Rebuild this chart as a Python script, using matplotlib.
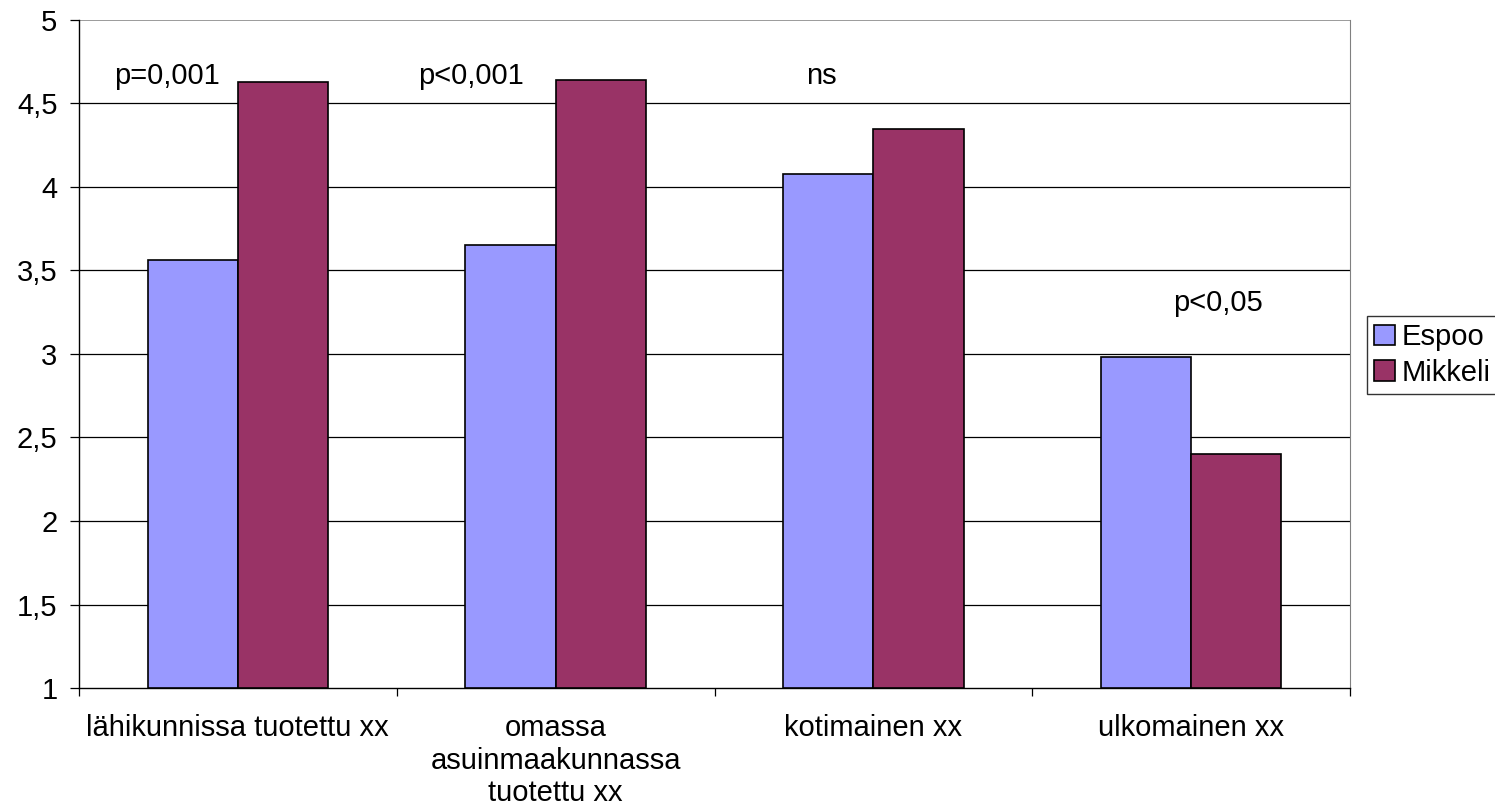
import matplotlib
matplotlib.use("Agg")
import matplotlib.pyplot as plt
import numpy as np

categories = ["lähikunnissa tuotettu xx", "omassa\nasuinmaakunnassa\ntuotettu xx",
              "kotimainen xx", "ulkomainen xx"]
series_names = ["Espoo", "Mikkeli"]
espoo = [3.56, 3.65, 4.08, 2.98]
mikkeli = [4.63, 4.64, 4.35, 2.40]
annotations = ["p=0,001", "p<0,001", "ns", "p<0,05"]
ytick_vals = [1, 1.5, 2, 2.5, 3, 3.5, 4, 4.5, 5]
ytick_labels = ["1", "1,5", "2", "2,5", "3", "3,5", "4", "4,5", "5"]

plt.rcParams['font.family'] = ['Liberation Sans', 'DejaVu Sans']
FS = 21
fig = plt.figure(figsize=(14.95, 8.06), dpi=100)
W, H = 1495, 806
ax = fig.add_axes([79 / W, 1 - 688 / H, (1350 - 79) / W, (688 - 20) / H])

x = np.arange(len(categories))
bw = 0.284
ax.bar(x - bw / 2, np.array(espoo) - 1, bw, bottom=1, color="#9999FF",
       edgecolor="black", linewidth=1.2, label=series_names[0], zorder=3)
ax.bar(x + bw / 2, np.array(mikkeli) - 1, bw, bottom=1, color="#993366",
       edgecolor="black", linewidth=1.2, label=series_names[1], zorder=3)

ax.set_xlim(-0.5, 3.5)
ax.set_ylim(1, 5)
ax.set_yticks(ytick_vals)
ax.set_yticklabels(ytick_labels, fontsize=FS)
for v in ytick_vals[1:-1]:
    ax.axhline(v, color="black", linewidth=0.9, zorder=1)
ax.axhline(5, color="#808080", linewidth=1.1, zorder=1)

ax.set_xticks(np.arange(-0.5, 4, 1))
ax.set_xticklabels([])
ax.tick_params(axis='x', length=6, width=0.9, direction='out')
ax.tick_params(axis='y', length=6.5, width=0.9, direction='out', pad=9)
for i, c in enumerate(categories):
    ax.text(i, 0.842, c, ha='center', va='top', fontsize=FS, linespacing=1.2)

ax.spines['top'].set_visible(False)
ax.spines['right'].set_color("#808080")
ax.spines['left'].set_linewidth(1)
ax.spines['bottom'].set_linewidth(1)

ann_pos = [(-0.223, 4.665), (0.735, 4.665), (1.837, 4.665), (3.084, 3.305)]
for (px, py), t in zip(ann_pos, annotations):
    ax.text(px, py, t, ha='center', va='center', fontsize=FS)

leg = fig.legend(loc='upper left', bbox_to_anchor=(1367 / W, 1 - 316 / H),
                 fontsize=FS, frameon=True, fancybox=False, edgecolor='black',
                 handlelength=0.7, handleheight=0.7, handletextpad=0.25,
                 borderpad=0.25, labelspacing=0.25, borderaxespad=0)
leg.get_frame().set_linewidth(1)

fig.savefig("out.png", dpi=100)
